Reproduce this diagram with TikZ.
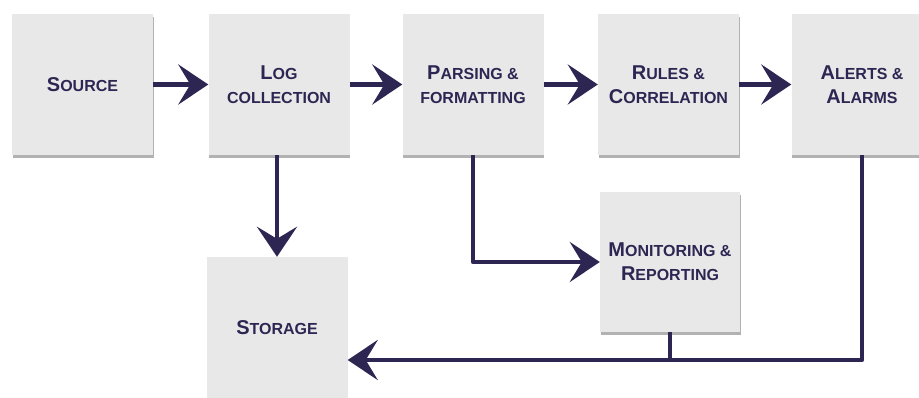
\documentclass[tikz,border=0pt]{standalone}
\usepackage{fontspec}
\setmainfont{Liberation Sans}
\usetikzlibrary{arrows.meta,shadows}
\definecolor{ink}{HTML}{2E2652}
\definecolor{boxgray}{HTML}{E8E8E8}
\newcommand\firstcap[1]{{\fontsize{20}{24}\selectfont #1}}
\tikzset{
  block/.style={fill=boxgray, minimum width=141pt, minimum height=141pt, inner sep=0pt,
    align=center, text=ink, font=\bfseries\fontsize{16}{24}\selectfont,
    drop shadow={shadow xshift=0.8pt, shadow yshift=-2.5pt, fill=black!55, opacity=.55}},
  flow/.style={draw=ink, line width=4.5pt, -{Stealth[length=30pt, width=40pt, inset=12pt]}},
  link/.style={draw=ink, line width=4.5pt}
}
\begin{document}
\begin{tikzpicture}[x=1pt, y=-1pt, line join=round]
            \clip (0,0) rectangle (919,397);
            \fill[white] (0,0) rectangle (919,397);
            \node [block] (src) at (82.5,84.5) {\firstcap{S}OURCE};
            \node [block] (log) at (279,84.5) {\firstcap{L}OG\\COLLECTION};
            \node [block] (parse) at (473,84.5) {\firstcap{P}ARSING \&\\FORMATTING};
            \node [block] (rules) at (668.5,84.5) {\firstcap{R}ULES \&\\\firstcap{C}ORRELATION};
            \node [block] (alert) at (862,84.5) {\firstcap{A}LERTS \&\\\firstcap{A}LARMS};
            \node [block, minimum width=140pt, minimum height=140pt] (mon) at (670,262) {\firstcap{M}ONITORING \&\\\firstcap{R}EPORTING};
            \node [block] (store) at (277,327.5) {\firstcap{S}TORAGE};
            \coordinate (bus) at (670,360);
            \foreach \a/\b in {src/log, log/parse, parse/rules, rules/alert}
                \path [flow] (\a) -- (\b);
            \path [flow] (log.south -| store.north) -- (store.north);
            \path [flow] (parse.south) |- (mon.west);
            \path [flow] (alert.south) |- ([yshift=-32.5pt]store.east);
            \path [link] (mon.south) -- (bus);
            \end{tikzpicture}
\end{document}
